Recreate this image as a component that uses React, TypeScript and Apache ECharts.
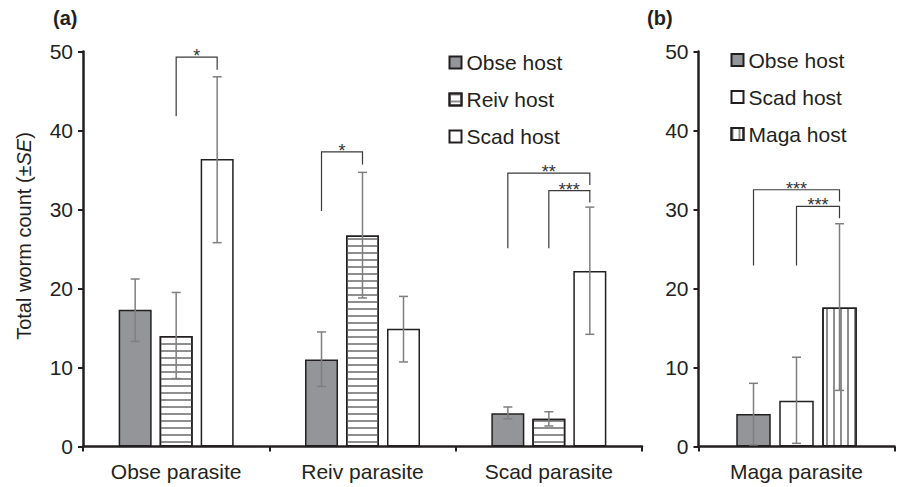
import React, { useEffect, useRef } from 'react';
import * as echarts from 'echarts';

// ---------- data ----------
const categoriesA = ['Obse parasite', 'Reiv parasite', 'Scad parasite'];
const categoriesB = ['Maga parasite'];

const hostsA = ['Obse host', 'Reiv host', 'Scad host'];
const hostsB = ['Obse host', 'Scad host', 'Maga host'];

// Panel (a)
const obseHostA = [17.3, 11.0, 4.2];
const obseHostALow = [13.3, 7.6, 3.5];
const obseHostAHigh = [21.2, 14.5, 5.0];

const reivHostA = [14.0, 26.7, 3.5];
const reivHostALow = [8.6, 18.8, 2.6];
const reivHostAHigh = [19.5, 34.7, 4.4];

const scadHostA = [36.4, 14.9, 22.2];
const scadHostALow = [25.8, 10.7, 14.2];
const scadHostAHigh = [46.8, 19.0, 30.3];

// Panel (b)
const obseHostB = [4.1];
const obseHostBLow = [0.2];
const obseHostBHigh = [8.0];

const scadHostB = [5.8];
const scadHostBLow = [0.4];
const scadHostBHigh = [11.3];

const magaHostB = [17.6];
const magaHostBLow = [7.1];
const magaHostBHigh = [28.2];

const yTicks = [0, 10, 20, 30, 40, 50];

// Significance brackets
const bracketPanel = [0, 0, 0, 0, 1, 1];
const bracketCategory = [0, 1, 2, 2, 0, 0];
const bracketFrom = [1, 0, 0, 1, 0, 1];
const bracketTo = [2, 1, 2, 2, 2, 2];
const bracketLeftBottom = [41.8, 29.8, 25.1, 25.1, 22.9, 22.9];
const bracketTop = [49.3, 37.3, 34.6, 32.4, 32.5, 30.4];
const bracketRightBottom = [47.7, 35.7, 33.1, 30.9, 31.0, 28.9];
const bracketLabel = ['*', '*', '**', '***', '***', '***'];

// ---------- styles ----------
const FONT = "'Liberation Sans', Arial, Helvetica, sans-serif";
const INK = '#231f20';
const ERR = '#7f7f7f';
const GREY_FILL = '#939598';
const STRIPE = '#8e8e8e';

const BAR_W_A = 33;
const GAP_A = 8;
const BAR_W_B = 34.5;
const GAP_B = 8.5;

const styleFor: Record<string, any> = {
  'Obse host': { color: GREY_FILL, borderColor: INK, borderWidth: 1.5 },
  'Reiv host': {
    color: '#ffffff',
    borderColor: INK,
    borderWidth: 1.5,
    decal: {
      symbol: 'rect',
      symbolSize: 1,
      color: STRIPE,
      dashArrayX: [1, 0],
      dashArrayY: [2, 4.6],
      rotation: 0,
    },
  },
  'Scad host': { color: '#ffffff', borderColor: INK, borderWidth: 1.5 },
  'Maga host': {
    color: '#ffffff',
    borderColor: INK,
    borderWidth: 1.5,
    decal: {
      symbol: 'rect',
      symbolSize: 1,
      color: STRIPE,
      dashArrayX: [2, 4.3],
      dashArrayY: [1, 0],
      rotation: 0,
    },
  },
};

function App() {
  const ref = useRef<HTMLDivElement>(null);

  useEffect(() => {
    if (!ref.current) return;
    const chart = echarts.init(ref.current, null, { renderer: 'svg' });

    const seriesA = [
      { name: hostsA[0], values: obseHostA, low: obseHostALow, high: obseHostAHigh },
      { name: hostsA[1], values: reivHostA, low: reivHostALow, high: reivHostAHigh },
      { name: hostsA[2], values: scadHostA, low: scadHostALow, high: scadHostAHigh },
    ];
    const seriesB = [
      { name: hostsB[0], values: obseHostB, low: obseHostBLow, high: obseHostBHigh },
      { name: hostsB[1], values: scadHostB, low: scadHostBLow, high: scadHostBHigh },
      { name: hostsB[2], values: magaHostB, low: magaHostBLow, high: magaHostBHigh },
    ];

    const barSeries: any[] = [];
    const errSeries: any[] = [];

    const addPanel = (list: any[], axisIdx: number, barW: number, gap: number) => {
      const n = list.length;
      list.forEach((s, k) => {
        barSeries.push({
          type: 'bar',
          name: s.name,
          xAxisIndex: axisIdx,
          yAxisIndex: axisIdx,
          barWidth: barW,
          barGap: `${(gap / barW) * 100}%`,
          itemStyle: styleFor[s.name],
          emphasis: { disabled: true },
          z: 2,
          data: s.values,
        });
        const offset = (k - (n - 1) / 2) * (barW + gap);
        errSeries.push({
          type: 'custom',
          name: s.name + ' SE',
          xAxisIndex: axisIdx,
          yAxisIndex: axisIdx,
          z: 4,
          silent: true,
          itemStyle: { color: ERR },
          data: s.values.map((_: number, i: number) => [i, s.low[i], s.high[i]]),
          renderItem: (params: any, api: any) => {
            const c = api.value(0);
            const lo = api.coord([c, api.value(1)]);
            const hi = api.coord([c, api.value(2)]);
            const x = lo[0] + offset;
            const cap = 4.5;
            const st = { stroke: ERR, lineWidth: 1.5 };
            return {
              type: 'group',
              children: [
                { type: 'line', shape: { x1: x, y1: lo[1], x2: x, y2: hi[1] }, style: st },
                { type: 'line', shape: { x1: x - cap, y1: hi[1], x2: x + cap, y2: hi[1] }, style: st },
                { type: 'line', shape: { x1: x - cap, y1: lo[1], x2: x + cap, y2: lo[1] }, style: st },
              ],
            };
          },
        });
      });
    };
    addPanel(seriesA, 0, BAR_W_A, GAP_A);
    addPanel(seriesB, 1, BAR_W_B, GAP_B);

    const bracketSeries = [0, 1].map((panel) => {
      const idx = bracketPanel.map((p, i) => (p === panel ? i : -1)).filter((i) => i >= 0);
      const step = panel === 0 ? BAR_W_A + GAP_A : BAR_W_B + GAP_B;
      return {
        type: 'custom',
        name: 'brackets' + panel,
        xAxisIndex: panel,
        yAxisIndex: panel,
        z: 5,
        silent: true,
        itemStyle: { color: '#333333' },
        data: idx.map((i) => [
          bracketCategory[i],
          bracketFrom[i],
          bracketTo[i],
          bracketLeftBottom[i],
          bracketTop[i],
          bracketRightBottom[i],
        ]),
        renderItem: (params: any, api: any) => {
          const i = idx[params.dataIndex];
          const c = api.value(0);
          const from = api.value(1);
          const to = api.value(2);
          const lb = api.coord([c, api.value(3)]);
          const tp = api.coord([c, api.value(4)]);
          const rb = api.coord([c, api.value(5)]);
          const x1 = lb[0] + (from - 1) * step;
          const x2 = lb[0] + (to - 1) * step;
          return {
            type: 'group',
            children: [
              {
                type: 'polyline',
                shape: { points: [[x1, lb[1]], [x1, tp[1]], [x2, tp[1]], [x2, rb[1]]] },
                style: { stroke: '#3a3a3a', lineWidth: 1.2, fill: null },
              },
              {
                type: 'text',
                style: {
                  text: bracketLabel[i],
                  x: (x1 + x2) / 2,
                  y: tp[1] - 1,
                  align: 'center',
                  verticalAlign: 'middle',
                  textAlign: 'center',
                  textVerticalAlign: 'middle',
                  fontSize: 18,
                  fontFamily: FONT,
                  fill: '#333333',
                },
              },
            ],
          };
        },
      };
    });

    const yAxisCommon = {
      type: 'value',
      min: yTicks[0],
      max: yTicks[yTicks.length - 1],
      interval: yTicks[1] - yTicks[0],
      axisLine: { show: true, lineStyle: { color: INK, width: 2.5 } },
      axisTick: { show: true, length: 5, lineStyle: { color: INK, width: 2 } },
      axisLabel: { fontSize: 21, color: INK, fontFamily: FONT, margin: 10 },
      splitLine: { show: false },
    };
    const xAxisCommon = {
      type: 'category',
      axisLine: { show: true, lineStyle: { color: INK, width: 2.5 } },
      axisTick: { show: true, length: 5, lineStyle: { color: INK, width: 2 } },
      axisLabel: { fontSize: 21, color: INK, fontFamily: FONT, margin: 14 },
      splitLine: { show: false },
    };

    const legendCommon = {
      orient: 'vertical',
      icon: 'rect',
      itemWidth: 12,
      itemHeight: 12,
      itemGap: 16,
      padding: 0,
      selectedMode: false,
      textStyle: { fontSize: 21, color: INK, fontFamily: FONT, lineHeight: 21 },
    };

    const option: any = {
      animation: false,
      backgroundColor: '#ffffff',
      grid: [
        { left: 83, top: 51.5, width: 559, height: 395, containLabel: false },
        { left: 698.5, top: 51.5, width: 196, height: 395, containLabel: false },
      ],
      xAxis: [
        { ...xAxisCommon, gridIndex: 0, data: categoriesA },
        { ...xAxisCommon, gridIndex: 1, data: categoriesB },
      ],
      yAxis: [
        { ...yAxisCommon, gridIndex: 0 },
        { ...yAxisCommon, gridIndex: 1 },
      ],
      legend: [
        { ...legendCommon, left: 448.5, top: 52, data: hostsA },
        { ...legendCommon, left: 730.5, top: 49.5, data: hostsB },
      ],
      graphic: [
        {
          type: 'text',
          left: 53,
          top: 8,
          style: { text: '(a)', fontSize: 20, fontWeight: 'bold', fontFamily: FONT, fill: INK },
        },
        {
          type: 'text',
          left: 647,
          top: 8,
          style: { text: '(b)', fontSize: 20, fontWeight: 'bold', fontFamily: FONT, fill: INK },
        },
        {
          type: 'text',
          x: 24,
          y: 236,
          rotation: Math.PI / 2,
          style: {
            text: 'Total worm count (±{i|SE})',
            rich: {
              i: { fontStyle: 'italic', fontSize: 20, fontFamily: FONT, fill: INK, color: INK },
            },
            fontSize: 20,
            fontFamily: FONT,
            fill: INK,
            align: 'center',
            verticalAlign: 'middle',
            textAlign: 'center',
            textVerticalAlign: 'middle',
          },
        },
      ],
      series: [...barSeries, ...errSeries, ...bracketSeries],
    };

    chart.setOption(option);
    return () => {
      chart.dispose();
    };
  }, []);

  return (
    <div
      ref={ref}
      style={{ position: 'fixed', left: 0, top: 0, width: 901, height: 487, background: '#fff' }}
    />
  );
}

export default App;
